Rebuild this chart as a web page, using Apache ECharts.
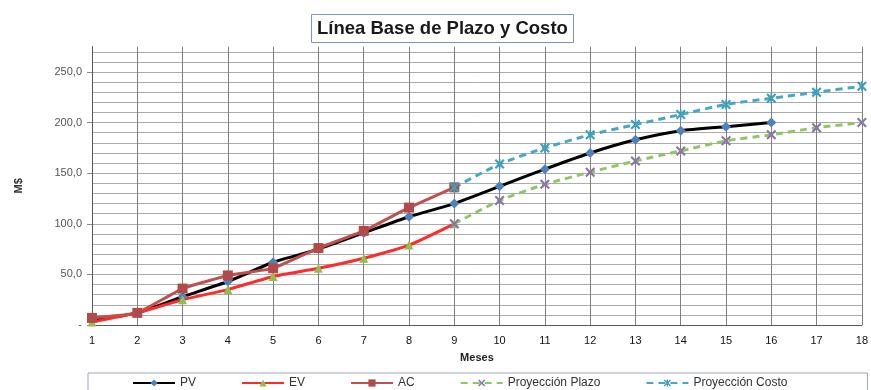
<!DOCTYPE html>
<html>
<head>
<meta charset="utf-8">
<script src="https://cdn.jsdelivr.net/npm/echarts@6/dist/echarts.min.js"></script>
<style>
html,body{margin:0;padding:0;background:#fff;}
#c{width:871px;height:390px;}
</style>
</head>
<body>
<div id="c"></div>
<script>
const months = ['1','2','3','4','5','6','7','8','9','10','11','12','13','14','15','16','17','18'];
const pv  = [5, 12, 28, 43, 62, 75, 91, 107, 120, 137, 154, 170, 183, 192, 196, 200, null, null];
const ev  = [3, 12, 25, 35, 48, 56, 66, 79, 100, null, null, null, null, null, null, null, null, null];
const ac  = [7, 12, 36, 49, 56, 76, 93, 116, 136, null, null, null, null, null, null, null, null, null];
const projPlazo = [null, null, null, null, null, null, null, null, 100, 123, 139, 151, 162, 172, 182, 188, 195, 200];
const projCosto = [null, null, null, null, null, null, null, null, 136, 159, 175, 188, 198, 208, 218, 224, 230, 236];
const yTickValues = [0, 50, 100, 150, 200, 250];
const seriesNames = ['PV', 'EV', 'AC', 'Proyección Plazo', 'Proyección Costo'];

const FONT = '"Liberation Sans", Arial, sans-serif';
const xSym = 'path://M0,1.5 L1.5,0 L5,3.5 L8.5,0 L10,1.5 L6.5,5 L10,8.5 L8.5,10 L5,6.5 L1.5,10 L0,8.5 L3.5,5 Z';
const starSym = 'path://M0,1.5 L1.5,0 L5,3.5 L8.5,0 L10,1.5 L6.5,5 L10,8.5 L8.5,10 L5,6.5 L1.5,10 L0,8.5 L3.5,5 Z M4.2,0 L5.8,0 L5.8,10 L4.2,10 Z';

const chart = echarts.init(document.getElementById('c'));
chart.setOption({
  animation: false,
  backgroundColor: '#ffffff',
  title: {
    text: 'Línea Base de Plazo y Costo',
    left: 311, top: 14,
    padding: [5, 6, 5, 6],
    borderColor: '#8294b8', borderWidth: 1,
    backgroundColor: '#ffffff',
    textStyle: {fontFamily: FONT, fontSize: 18.5, fontWeight: 'bold', color: '#1a1a1a'}
  },
  legend: {
    data: seriesNames,
    left: 88, top: 373,
    width: 760,
    padding: [4, 80, 8, 44],
    itemGap: 45,
    itemWidth: 42, itemHeight: 9,
    borderColor: '#9aa4b8', borderWidth: 1,
    textStyle: {fontFamily: FONT, fontSize: 12, color: '#333'}
  },
  grid: {left: 92, right: 9, top: 46.7, bottom: 65},
  xAxis: {
    type: 'category',
    data: months,
    boundaryGap: false,
    name: 'Meses',
    nameLocation: 'middle',
    nameGap: 27,
    nameTextStyle: {fontFamily: FONT, fontSize: 11, fontWeight: 'bold', color: '#222'},
    axisLine: {lineStyle: {color: '#595959', width: 1}},
    axisTick: {show: false},
    axisLabel: {fontFamily: FONT, fontSize: 11, color: '#111', margin: 10, interval: 0},
    splitLine: {show: true, lineStyle: {color: '#808080', width: 1}}
  },
  yAxis: [{
    type: 'value',
    min: 0, max: 275, interval: 10,
    name: 'M$',
    nameLocation: 'middle',
    nameGap: 68,
    nameRotate: 90,
    nameTextStyle: {fontFamily: FONT, fontSize: 11, fontWeight: 'bold', color: '#333'},
    axisLine: {show: true, lineStyle: {color: '#595959', width: 1}},
    axisTick: {show: true, length: 5, customValues: yTickValues, lineStyle: {color: '#8c8c8c'}},
    axisLabel: {
      customValues: yTickValues,
      fontFamily: FONT, fontSize: 11, color: '#555', margin: 10,
      formatter: v => v === 0 ? '-' : v.toFixed(1).replace('.', ',')
    },
    splitLine: {show: false}
  }, {
    type: 'value',
    position: 'left',
    min: 0, max: 275, interval: 10,
    axisLine: {show: false},
    axisTick: {show: false},
    axisLabel: {show: false},
    splitLine: {show: true, showMaxLine: false, lineStyle: {color: '#ababab', width: 1}}
  }],
  series: [
    {name: 'PV', type: 'line', data: pv, smooth: 0.2, symbol: 'diamond', symbolSize: 10,
     lineStyle: {color: '#000000', width: 3}, itemStyle: {color: '#4f81bd'}},
    {name: 'EV', type: 'line', data: ev, smooth: 0.2, symbol: 'triangle', symbolSize: 9,
     lineStyle: {color: '#ff2a2a', width: 3}, itemStyle: {color: '#8fbf4f'}},
    {name: 'AC', type: 'line', data: ac, smooth: 0.1, symbol: 'rect', symbolSize: 10,
     lineStyle: {color: '#c0504d', width: 3}, itemStyle: {color: '#b34a4a'}},
    {name: 'Proyección Plazo', type: 'line', data: projPlazo, smooth: 0.2, symbol: xSym, symbolSize: 10,
     lineStyle: {color: '#8cc965', width: 3, type: [7, 5]}, itemStyle: {color: '#8a74a8'}},
    {name: 'Proyección Costo', type: 'line', data: projCosto, smooth: 0.2, symbol: starSym, symbolSize: 10,
     lineStyle: {color: '#46a8c8', width: 3, type: [7, 5]}, itemStyle: {color: '#3fa0b8'}}
  ]
});
</script>
</body>
</html>
